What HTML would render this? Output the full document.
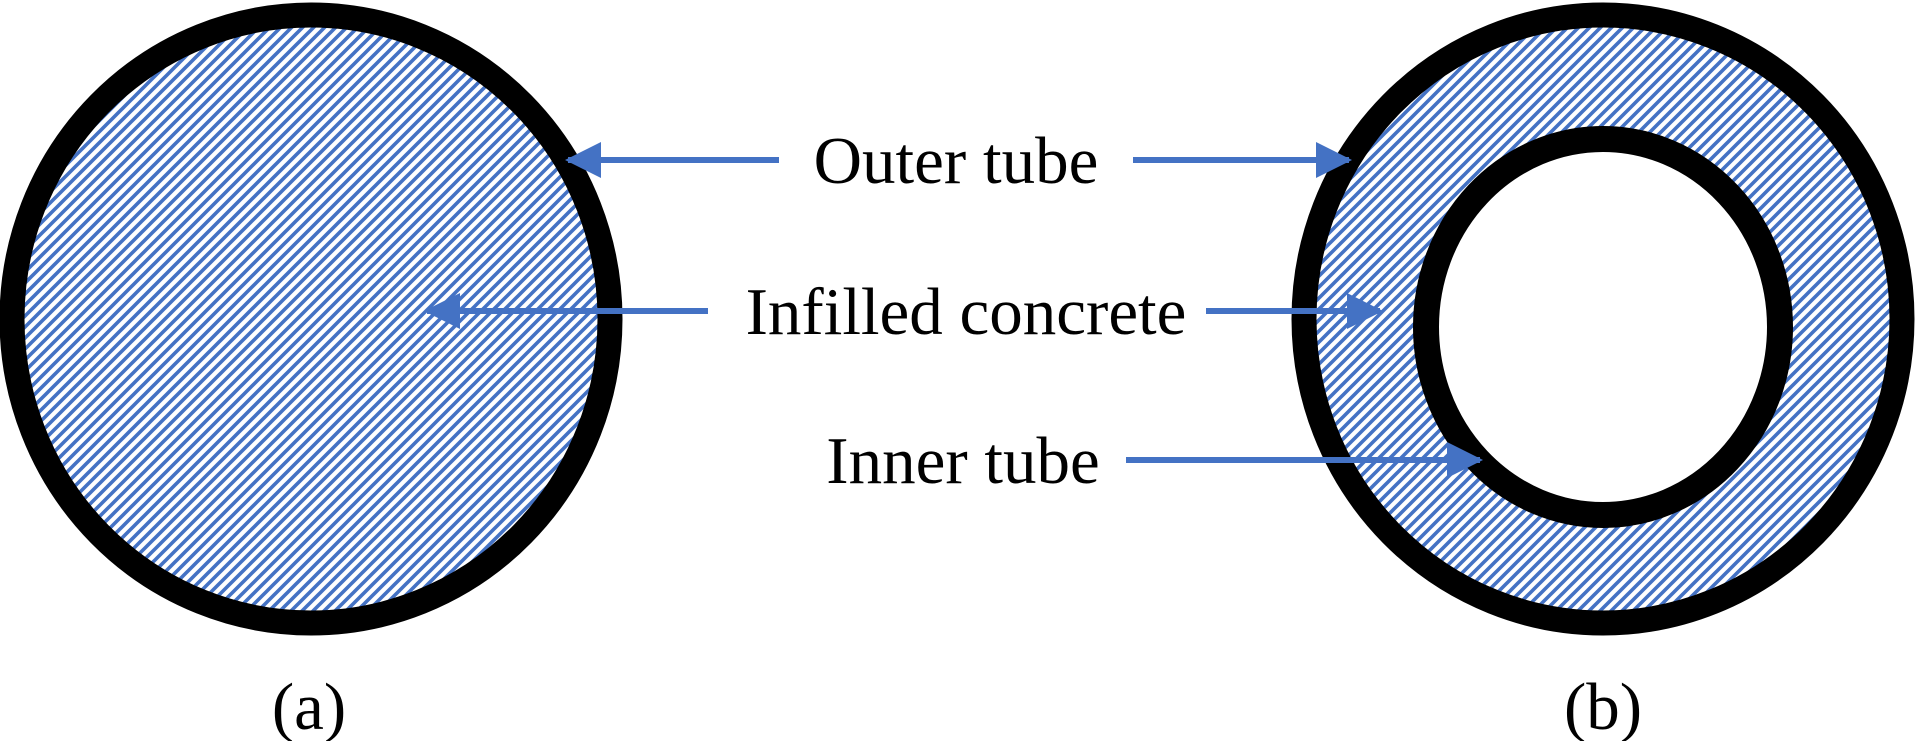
<!DOCTYPE html>
<html><head><style>
html,body{margin:0;padding:0;background:#fff;}
svg{display:block}
text{font-family:"Liberation Serif",serif;font-size:67px;fill:#000}
</style></head><body>
<svg width="1915" height="741" viewBox="0 0 1915 741" xmlns="http://www.w3.org/2000/svg">
<defs>
<pattern id="h" patternUnits="userSpaceOnUse" width="11" height="11">
<path d="M-2,13 L13,-2 M-2,2 L2,-2 M9,13 L13,9" stroke="#4472C4" stroke-width="3.6"/>
</pattern>
<marker id="a" markerWidth="6" markerHeight="6" refX="5.5" refY="3" orient="auto" markerUnits="strokeWidth">
<path d="M0,0 L6,3 L0,6 z" fill="#4472C4"/>
</marker>
</defs>
<ellipse cx="311" cy="319" rx="299" ry="304" fill="url(#h)" stroke="#000" stroke-width="25"/>
<ellipse cx="1603" cy="319" rx="299" ry="304" fill="url(#h)" stroke="#000" stroke-width="25"/>
<ellipse cx="1603" cy="327" rx="177" ry="188" fill="#fff" stroke="#000" stroke-width="26"/>
<g stroke="#4472C4" stroke-width="6" marker-end="url(#a)">
<line x1="779" y1="160" x2="568" y2="160"/>
<line x1="1133" y1="160" x2="1349" y2="160"/>
<line x1="708" y1="311" x2="427" y2="311"/>
<line x1="1206" y1="311" x2="1380" y2="311"/>
<line x1="1126" y1="460" x2="1480" y2="460"/>
</g>
<text x="956" y="183" text-anchor="middle">Outer tube</text>
<text x="966" y="334" text-anchor="middle">Infilled concrete</text>
<text x="963" y="483" text-anchor="middle">Inner tube</text>
<text x="309" y="729" text-anchor="middle">(a)</text>
<text x="1603" y="729" text-anchor="middle">(b)</text>
</svg>
</body></html>
